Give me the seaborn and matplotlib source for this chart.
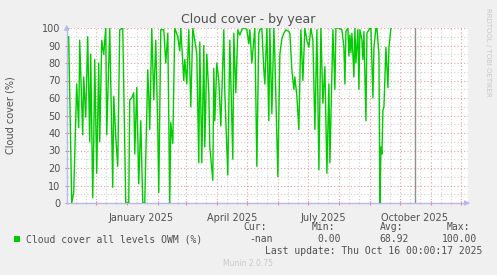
import matplotlib
matplotlib.use("Agg")
import matplotlib.pyplot as plt
import matplotlib.dates as mdates
import matplotlib.transforms as mtransforms
import pandas as pd
import seaborn as sns

# ---------------- data ----------------
base_date = "2025-01-01"
day_offsets = [
    -58, -55, -53, -50, -48, -47, -44, -43, -41, -39, -37, -36, -34, -33, -32, -30,
    -28, -27, -25, -23, -21, -20, -17, -14, -13, -11, -9, -7, -4, -1,
    2, 3, 5, 7, 8, 10, 12, 14, 16, 18, 21, 22, 23, 25, 27, 29, 31, 32, 34, 37,
    39, 41, 43, 44, 46, 48, 51, 53, 54, 57, 58, 60, 62, 64, 66, 68, 70, 72,
    73, 75, 77, 78, 80, 82, 83, 86, 87, 88, 90, 92, 94, 97, 98, 101, 103, 106,
    107, 109, 111, 113, 115, 117, 118, 120, 122, 123, 125, 127, 128, 130, 132, 133,
    135, 137, 138, 140, 142, 143, 145, 147, 148, 151, 153, 155, 157, 159, 162, 163,
    165, 167, 168, 170, 172, 174, 176, 178, 180, 182, 184, 186, 188, 190, 192, 194,
    196, 198, 200, 202, 203, 206, 208, 209, 212, 215, 217, 218, 219, 221, 222, 223,
    224, 225, 227, 228, 229, 231, 232, 233, 235, 236, 237, 239, 240, 242, 243, 244,
    246, 247, 249, 250, 252, 253, 254, 255, 256, 257, 259, 261, 262, 264,
]
cloud_cover = [
    95, 0, 6, 68, 43, 93, 39, 72, 49, 95, 35, 85, 3, 34, 82, 17,
    80, 35, 93, 85, 100, 39, 100, 9, 61, 38, 21, 99, 100, 0,
    0, 59, 60, 63, 28, 66, 11, 47, 0, 0, 76, 61, 42, 100, 59, 93, 42, 6, 99, 99,
    80, 97, 0, 46, 34, 100, 95, 87, 100, 70, 82, 68, 99, 55, 100, 93, 85, 23,
    92, 23, 90, 32, 85, 63, 32, 13, 77, 47, 80, 70, 44, 99, 63, 16, 93, 25,
    97, 63, 99, 96, 99, 100, 100, 99, 91, 99, 80, 93, 100, 21, 97, 99,
    100, 76, 68, 100, 47, 100, 51, 100, 84, 15, 85, 94, 97, 99, 98, 97,
    76, 65, 72, 61, 42, 99, 70, 100, 93, 89, 100, 93, 42, 99, 19, 100,
    57, 78, 17, 68, 23, 99, 65, 100, 100, 99, 89, 68, 98, 100, 84, 96,
    86, 97, 72, 100, 80, 99, 65, 99, 93, 82, 98, 47, 97, 99, 100, 100,
    60, 89, 100, 100, 85, 0, 32, 28, 53, 55, 89, 66, 89, 100,
]
series_label = "Cloud cover all levels OWM (%)"
title = "Cloud cover - by year"
y_label = "Cloud cover (%)"
y_ticks = [0, 10, 20, 30, 40, 50, 60, 70, 80, 90, 100]
month_labels = ["January 2025", "April 2025", "July 2025", "October 2025"]
month_label_dates = ["2025-01-15", "2025-04-16", "2025-07-16", "2025-10-16"]
stat_headers = ["Cur:", "Min:", "Avg:", "Max:"]
stat_values = ["-nan", "0.00", "68.92", "100.00"]
last_update = "Last update: Thu Oct 16 00:00:17 2025"
now_date = "2025-10-16"
x_start, x_end = "2024-11-02", "2025-12-08"

df = pd.DataFrame({
    "date": pd.Timestamp(base_date) + pd.to_timedelta(day_offsets, unit="D"),
    "value": cloud_cover,
})

# ---------------- style ----------------
W, H = 497, 275
BG = "#F0F0F0"
TXT = "#505050"
GREEN = "#00CC00"
MAJ = "#E5A0A0"
MINC = "#D0D0D0"
AXC = "#B8B8F0"

fig = plt.figure(figsize=(W / 100, H / 100), dpi=100, facecolor=BG)
ax = fig.add_axes([66.7 / W, 1 - 203 / H, (468 - 66.7) / W, 175 / H])
ax.set_facecolor("white")

sns.lineplot(data=df, x="date", y="value", ax=ax, color=GREEN, linewidth=1.0,
             legend=False, zorder=3)

ax.set_xlim(pd.Timestamp(x_start), pd.Timestamp(x_end))
ax.set_ylim(0, 100)

# grid
ax.xaxis.set_major_locator(mdates.MonthLocator())
ax.xaxis.set_minor_locator(mdates.DayLocator(bymonthday=[11, 21]))
ax.set_yticks(y_ticks)
ax.set_yticks([v + 5 for v in y_ticks[:-1]], minor=True)
ax.grid(which="major", color=MAJ, linestyle=(0, (1, 2)), linewidth=0.8, zorder=1)
ax.grid(which="minor", color=MINC, linestyle=(0, (1, 2)), linewidth=0.8, zorder=1)
ax.set_axisbelow(True)
ax.xaxis.set_ticklabels([])
ax.tick_params(axis="x", which="major", length=3, direction="inout", color="#E08080")
ax.tick_params(axis="x", which="minor", length=2, direction="inout", color="#C0C0C0")
ax.tick_params(axis="y", which="major", length=3, direction="inout", color="#E08080",
               labelsize=7, labelcolor=TXT, pad=3)
ax.tick_params(axis="y", which="minor", length=2, direction="inout", color="#C0C0C0")
ax.set_xlabel("")
ax.set_ylabel("")

for s in ["top", "right"]:
    ax.spines[s].set_visible(False)
for s in ["left", "bottom"]:
    ax.spines[s].set_color(AXC)
    ax.spines[s].set_linewidth(1.0)

# axis arrows
ax.annotate("", xy=(0, 1.035), xytext=(0, 0.98), xycoords="axes fraction",
            arrowprops=dict(arrowstyle="-|>", color=AXC, lw=1.0, mutation_scale=7),
            annotation_clip=False)
ax.annotate("", xy=(1.012, 0), xytext=(0.99, 0), xycoords="axes fraction",
            arrowprops=dict(arrowstyle="-|>", color=AXC, lw=1.0, mutation_scale=7),
            annotation_clip=False)

# now line
ax.axvline(pd.Timestamp(now_date), color="#909090", linewidth=1.0, zorder=2)

# month labels
trans = mtransforms.blended_transform_factory(ax.transData, ax.transAxes)
for lab, d in zip(month_labels, month_label_dates):
    ax.text(mdates.date2num(pd.Timestamp(d)), -0.055, lab, transform=trans,
            ha="center", va="top", fontsize=7, color=TXT)

def px(x, y):
    return x / W, 1 - y / H

fig.text(*px(248, 19), title, ha="center", va="center", fontsize=9, color=TXT)
fig.text(*px(11, 115), y_label, ha="center", va="center", rotation=90,
         fontsize=7, color=TXT)
fig.text(*px(488, 52), "RRDTOOL / TOBI OETIKER", ha="center", va="center",
         rotation=270, fontsize=5, color="#C8C8C8")

mono = "DejaVu Sans Mono"
fig.patches.append(plt.Rectangle(px(14, 242), 6 / W, 6 / H, transform=fig.transFigure,
                                 facecolor=GREEN, edgecolor="none"))
fig.text(*px(26, 239.5), series_label, ha="left", va="center", fontsize=7,
         family=mono, color=TXT)
header_right = [267, 335, 403, 470]
value_right = [273, 341, 409, 477]
for hx, h in zip(header_right, stat_headers):
    fig.text(*px(hx, 227.5), h, ha="right", va="center", fontsize=7, family=mono, color=TXT)
for vx, v in zip(value_right, stat_values):
    fig.text(*px(vx, 239.5), v, ha="right", va="center", fontsize=7, family=mono, color=TXT)
fig.text(*px(482, 251.5), last_update, ha="right", va="center", fontsize=7,
         family=mono, color=TXT)
fig.text(*px(248, 263.5), "Munin 2.0.75", ha="center", va="center", fontsize=5.5,
         color="#C8C8C8")

fig.savefig("out.png", dpi=100, facecolor=BG)
